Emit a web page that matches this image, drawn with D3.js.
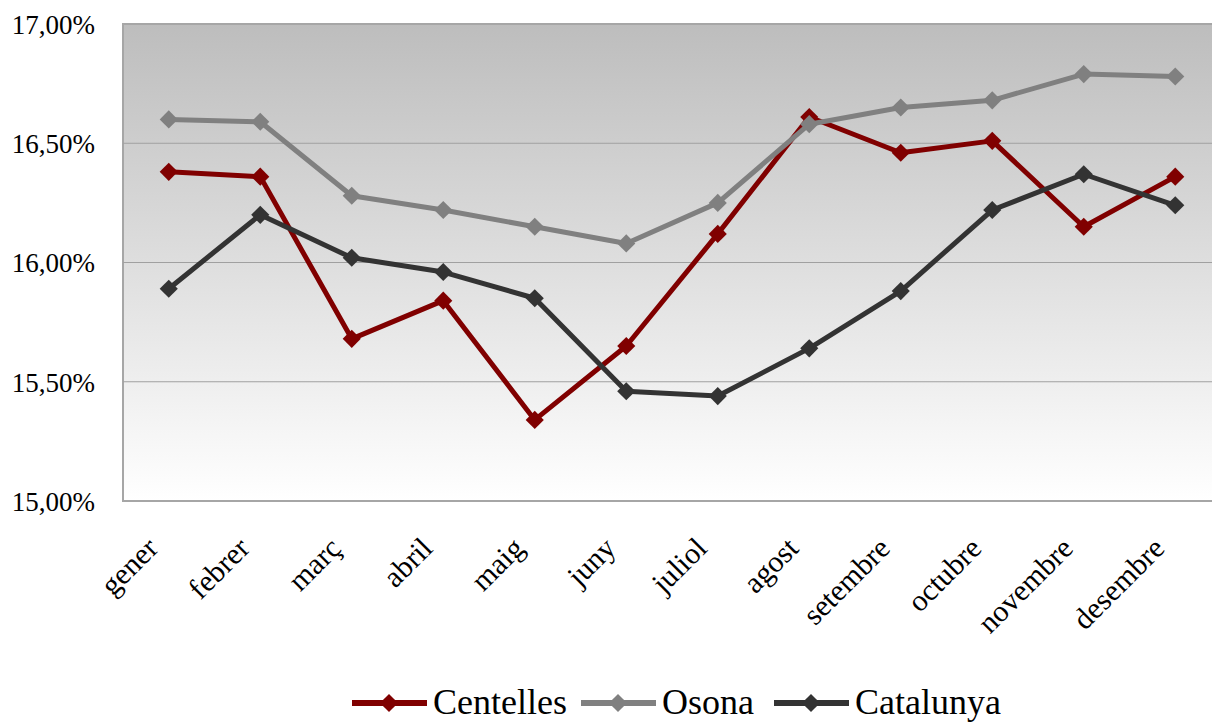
<!DOCTYPE html>
<html>
<head>
<meta charset="utf-8">
<script src="https://cdn.jsdelivr.net/npm/d3@7"></script>
<style>
body { margin: 0; background: #fff; }
</style>
</head>
<body>
<svg id="svg" width="1212" height="722"></svg>
<script>
var months = ["gener", "febrer", "març", "abril", "maig", "juny", "juliol", "agost", "setembre", "octubre", "novembre", "desembre"];
var centelles = [16.38, 16.36, 15.68, 15.84, 15.34, 15.65, 16.12, 16.61, 16.46, 16.51, 16.15, 16.36];
var osona = [16.60, 16.59, 16.28, 16.22, 16.15, 16.08, 16.25, 16.58, 16.65, 16.68, 16.79, 16.78];
var catalunya = [15.89, 16.20, 16.02, 15.96, 15.85, 15.46, 15.44, 15.64, 15.88, 16.22, 16.37, 16.24];
var yTicks = [15, 15.5, 16, 16.5, 17];

var series = [
  { name: "Centelles", values: centelles, color: "#800000" },
  { name: "Osona", values: osona, color: "#808080" },
  { name: "Catalunya", values: catalunya, color: "#333333" }
];

var serif = "'Liberation Serif', 'DejaVu Serif', serif";
var plotLeft = 123, plotRight = 1221, plotTop = 24, plotBottom = 501;
var svg = d3.select("#svg").attr("font-family", serif);

var x = d3.scalePoint().domain(months).range([plotLeft, plotRight]).padding(0.5);
var y = d3.scaleLinear().domain([15, 17]).range([plotBottom, plotTop]);

// background gradient
var grad = svg.append("defs").append("linearGradient")
  .attr("id", "bg").attr("x1", 0).attr("y1", 0).attr("x2", 0).attr("y2", 1);
grad.append("stop").attr("offset", "0%").attr("stop-color", "#bdbdbd");
grad.append("stop").attr("offset", "100%").attr("stop-color", "#ffffff");

svg.append("rect")
  .attr("x", plotLeft).attr("y", plotTop)
  .attr("width", plotRight - plotLeft).attr("height", plotBottom - plotTop)
  .style("fill", "url(#bg)")
  .style("stroke", "#a6a6a6")
  .style("stroke-width", 2);

// gridlines
svg.append("g").selectAll("line")
  .data(yTicks.slice(1, -1))
  .enter().append("line")
  .attr("x1", plotLeft).attr("x2", plotRight)
  .attr("y1", function(d) { return y(d); })
  .attr("y2", function(d) { return y(d); })
  .style("stroke", "#a0a0a0")
  .style("stroke-width", 1);

// y axis labels
var yAxis = svg.append("g")
  .attr("transform", "translate(" + (plotLeft - 28) + ",0)")
  .call(d3.axisLeft(y).tickValues(yTicks).tickSize(0).tickPadding(0)
    .tickFormat(function(d) { return d3.format(".2f")(d).replace(".", ",") + "%"; }));
yAxis.attr("font-family", serif).attr("font-size", 27);
yAxis.select(".domain").remove();
yAxis.selectAll("text")
  .attr("x", 0).attr("dy", "0.35em")
  .attr("fill", "#000");

// x axis labels
svg.append("g").selectAll("text")
  .data(months)
  .enter().append("text")
  .attr("transform", function(d) { return "translate(" + (x(d) - 9) + ",550) rotate(-45)"; })
  .attr("text-anchor", "end")
  .attr("font-size", 30)
  .text(function(d) { return d; });

var line = d3.line()
  .x(function(d, i) { return x(months[i]); })
  .y(function(d) { return y(d); });

var diamond = d3.symbol().type(d3.symbolDiamond2).size(210);

series.forEach(function(s) {
  svg.append("path")
    .datum(s.values)
    .attr("d", line)
    .style("fill", "none")
    .style("stroke", s.color)
    .style("stroke-width", 5)
    .style("stroke-linejoin", "round");
  svg.append("g").selectAll("path")
    .data(s.values)
    .enter().append("path")
    .attr("d", diamond)
    .attr("transform", function(d, i) { return "translate(" + x(months[i]) + "," + y(d) + ")"; })
    .style("fill", s.color);
});

// legend
var legendX = [352, 581, 774];
var legend = svg.append("g").selectAll("g")
  .data(series)
  .enter().append("g")
  .attr("transform", function(d, i) { return "translate(" + legendX[i] + ",703)"; });
legend.append("line")
  .attr("x1", 0).attr("x2", 75)
  .style("stroke", function(d) { return d.color; })
  .style("stroke-width", 6);
legend.append("path")
  .attr("d", diamond)
  .attr("transform", "translate(37,0)")
  .style("fill", function(d) { return d.color; });
legend.append("text")
  .attr("x", 81).attr("y", 11)
  .attr("font-size", 36)
  .text(function(d) { return d.name; });
</script>
</body>
</html>
